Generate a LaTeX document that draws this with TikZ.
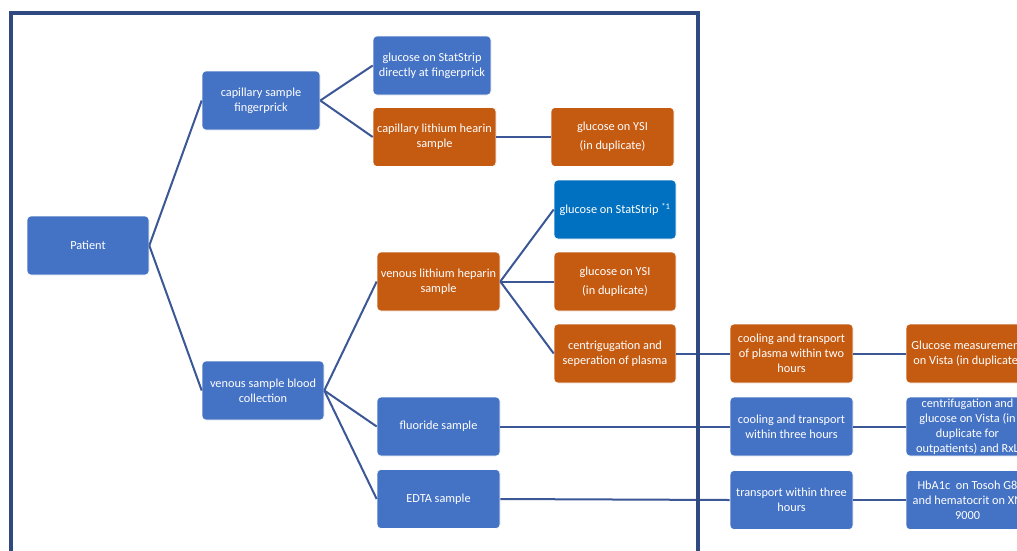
\documentclass[tikz,border=0pt]{standalone}
\usepackage{fontspec}
\setmainfont{Carlito}
\definecolor{bxblue}{RGB}{68,114,196}
\definecolor{bxorange}{RGB}{197,90,17}
\definecolor{bxbright}{RGB}{0,112,192}
\definecolor{linecol}{RGB}{59,87,150}
\definecolor{framecol}{RGB}{47,74,128}
\tikzset{
  bx/.style={rounded corners=4pt, draw=white, line width=0.6pt, text=white, align=center,
    minimum width=122pt, minimum height=59pt, inner sep=1pt,
    font=\fontsize{12.3}{15}\selectfont},
  bb/.style={bx, fill=bxblue},
  bo/.style={bx, fill=bxorange},
  bbr/.style={bx, fill=bxbright},
  conn/.style={draw=linecol, line width=2pt},
  framestyle/.style={draw=framecol, line width=4pt}
}
\begin{document}
\begin{tikzpicture}[x=1pt,y=-1pt]
\useasboundingbox (0,0) rectangle (1017,550);
\clip (0,0) rectangle (1017,550);
\fill[white] (0,0) rectangle (1017,550);

% nodes
\node[bb] (pat) at (88,245.5) {Patient};
\node[bb, minimum width=118pt] (cap) at (261,100.5) {capillary sample\\fingerprick};
\node[bb, minimum width=118pt] (gss) at (432,65.5) {glucose on StatStrip\\directly at fingerprick};
\node[bo, minimum width=123pt] (cli) at (434.5,137) {capillary lithium hearin\\sample};
\node[bo, minimum width=123pt] (ysia) at (612.5,137) {glucose on YSI\\[4pt](in duplicate)};
\node[bbr] (gssb) at (615,209.5) {glucose on StatStrip \textsuperscript{*1}};
\node[bo, minimum width=123pt] (vli) at (438.5,281.5) {venous lithium heparin\\sample};
\node[bo] (ysib) at (615,281.5) {glucose on YSI\\[4pt](in duplicate)};
\node[bo] (cen) at (615,353.5) {centrigugation and\\seperation of plasma};
\node[bb] (vsb) at (263,390.5) {venous sample blood\\collection};
\node[bb, minimum width=123pt] (flu) at (438.5,426.5) {fluoride sample};
\node[bb, minimum width=123pt] (edta) at (438.5,499) {EDTA sample};
\node[bo, minimum width=123pt] (coola) at (791.5,353.5) {cooling and transport\\of plasma within two\\hours};
\node[bo, minimum width=123pt] (gmv) at (967.5,353.5) {Glucose measurement\\on Vista (in duplicate)};
\node[bb, minimum width=123pt] (coolb) at (791.5,426.5) {cooling and transport\\within three hours};
\node[bb, minimum width=123pt] (cgv) at (967.5,426.5) {centrifugation and\\glucose on Vista (in\\duplicate for\\outpatients) and RxL};
\node[bb, minimum width=123pt] (trc) at (791.5,500) {transport within three\\hours};
\node[bb, minimum width=123pt] (hba) at (967.5,500) {HbA1c~ on Tosoh G8\\and hematocrit on XN\\9000};

% connectors
\draw[conn] (pat.east) -- (cap.west);
\draw[conn] (pat.east) -- (vsb.west);
\draw[conn] (cap.east) -- (gss.west);
\draw[conn] (cap.east) -- (cli.west);
\draw[conn] (cli.east) -- (ysia.west);
\draw[conn] (vsb.east) -- (vli.west);
\draw[conn] (vsb.east) -- (flu.west);
\draw[conn] (vsb.east) -- (edta.west);
\draw[conn] (vli.east) -- (gssb.west);
\draw[conn] (vli.east) -- (ysib.west);
\draw[conn] (vli.east) -- (cen.west);
\draw[conn] (cen.east) -- (coola.west);
\draw[conn] (flu.east) -- (coolb.west);
\draw[conn] (edta.east) -- (trc.west);
\draw[conn] (coola.east) -- (gmv.west);
\draw[conn] (coolb.east) -- (cgv.west);
\draw[conn] (trc.east) -- (hba.west);

% frame
\coordinate (ftl) at (11,13);
\coordinate (fbr) at (698,570);
\draw[framestyle] (ftl) rectangle (fbr);
\end{tikzpicture}
\end{document}
